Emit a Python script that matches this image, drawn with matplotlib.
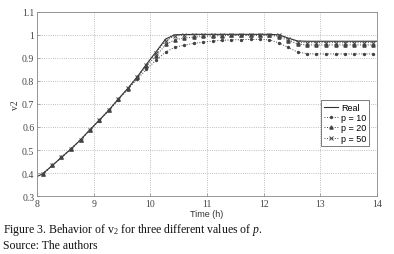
import numpy as np
import matplotlib
matplotlib.use('Agg')
import matplotlib.pyplot as plt

plt.rcParams['mathtext.fontset'] = 'custom'
plt.rcParams['mathtext.rm'] = 'Liberation Serif'
plt.rcParams['mathtext.it'] = 'Liberation Serif:italic'

# real curve (solid line)
t_real = [8.0, 8.1, 8.27, 8.43, 8.6, 8.77, 8.93, 9.1, 9.27, 9.43, 9.6, 9.77, 9.93,
          10.1, 10.27, 10.43, 10.6, 10.77, 10.93, 11.1, 11.27, 11.43, 11.6, 11.77,
          11.93, 12.1, 12.27, 12.43, 12.6, 12.77, 12.93, 13.1, 13.27, 13.43, 13.6,
          13.77, 13.93, 14.0]
v_real = [0.385, 0.397, 0.433, 0.468, 0.505, 0.545, 0.587, 0.630, 0.674, 0.720, 0.767,
          0.818, 0.872, 0.926, 0.982, 1.0, 1.001, 1.002, 1.002, 1.002, 1.002, 1.002,
          1.002, 1.002, 1.002, 1.002, 1.0, 0.986, 0.973, 0.972, 0.972, 0.972, 0.972,
          0.972, 0.972, 0.972, 0.972, 0.972]

# estimated series (sampled every 10 min)
t = [8.1, 8.27, 8.43, 8.6, 8.77, 8.93, 9.1, 9.27, 9.43, 9.6, 9.77, 9.93,
     10.1, 10.27, 10.43, 10.6, 10.77, 10.93, 11.1, 11.27, 11.43, 11.6, 11.77,
     11.93, 12.1, 12.27, 12.43, 12.6, 12.77, 12.93, 13.1, 13.27, 13.43, 13.6,
     13.77, 13.93]
v_p10 = [0.396, 0.433, 0.468, 0.504, 0.544, 0.586, 0.628, 0.672, 0.717, 0.763,
         0.808, 0.850, 0.890, 0.925, 0.946, 0.955, 0.963, 0.968, 0.973, 0.976,
         0.978, 0.979, 0.980, 0.980, 0.978, 0.965, 0.945, 0.925, 0.918, 0.917,
         0.917, 0.917, 0.917, 0.917, 0.917, 0.917]
v_p20 = [0.396, 0.433, 0.468, 0.505, 0.545, 0.587, 0.630, 0.674, 0.720, 0.766,
         0.815, 0.865, 0.907, 0.958, 0.978, 0.986, 0.990, 0.993, 0.995, 0.996,
         0.997, 0.997, 0.998, 0.998, 0.998, 0.992, 0.975, 0.960, 0.956, 0.956,
         0.956, 0.956, 0.956, 0.956, 0.956, 0.956]
v_p50 = [0.396, 0.433, 0.468, 0.505, 0.545, 0.587, 0.630, 0.674, 0.720, 0.767,
         0.818, 0.871, 0.922, 0.975, 0.995, 0.999, 1.0, 1.0, 1.0, 1.0, 1.0, 1.0,
         1.0, 1.0, 1.0, 0.997, 0.983, 0.968, 0.966, 0.966, 0.966, 0.966, 0.966,
         0.966, 0.966, 0.966]

x_ticks = [8, 9, 10, 11, 12, 13, 14]
y_ticks = [0.3, 0.4, 0.5, 0.6, 0.7, 0.8, 0.9, 1.0, 1.1]
y_tick_labels = ['0.3', '0.4', '0.5', '0.6', '0.7', '0.8', '0.9', '1', '1.1']

fig = plt.figure(figsize=(3.94, 2.55), dpi=100)
ax = fig.add_axes([0.094, 0.227, 0.863, 0.723])

ax.plot(t_real, v_real, '-', color='#333333', lw=0.8, label='Real')
ax.plot(t, v_p10, ':', color='#444444', lw=0.7, marker='.', ms=2.8, label='p = 10')
ax.plot(t, v_p20, ':', color='#444444', lw=0.7, marker='^', ms=2.3, label='p = 20')
ax.plot(t, v_p50, ':', color='#444444', lw=0.7, marker='x', ms=2.3, mew=0.7, label='p = 50')

ax.set_xlim(8, 14)
ax.set_ylim(0.3, 1.1)
ax.set_xticks(x_ticks)
ax.set_yticks(y_ticks)
ax.set_yticklabels(y_tick_labels)
ax.grid(True, linestyle=':', color='#aaaaaa', lw=0.6)
for s in ax.spines.values():
    s.set_color('#888888')
    s.set_linewidth(0.6)
ax.tick_params(direction='in', length=2, width=0.5, colors='#888888',
               labelcolor='#444444', labelsize=7, pad=2)
for lab in ax.get_xticklabels() + ax.get_yticklabels():
    lab.set_family('Liberation Serif')

ax.set_xlabel('Time (h)', fontsize=6.5, family='Liberation Sans', color='#333333', labelpad=1)
ax.set_ylabel('v2', fontsize=7, family='Liberation Serif', color='#333333', labelpad=1)

leg = ax.legend(loc='lower right', bbox_to_anchor=(0.99, 0.25),
                prop={'family': 'Liberation Sans', 'size': 6.5},
                handlelength=1.6, handletextpad=0.3, borderpad=0.3,
                labelspacing=0.15, fancybox=False, framealpha=1)
leg.get_frame().set_edgecolor('#666666')
leg.get_frame().set_linewidth(0.6)

fig.text(0.008, 0.085, r'Figure 3. Behavior of $\mathrm{v}_2$ for three different values of $p$.',
         fontsize=8.5, family='Liberation Serif', color='#111111')
fig.text(0.008, 0.025, 'Source: The authors', fontsize=8.5,
         family='Liberation Serif', color='#111111')

fig.savefig('out.png', dpi=100)
